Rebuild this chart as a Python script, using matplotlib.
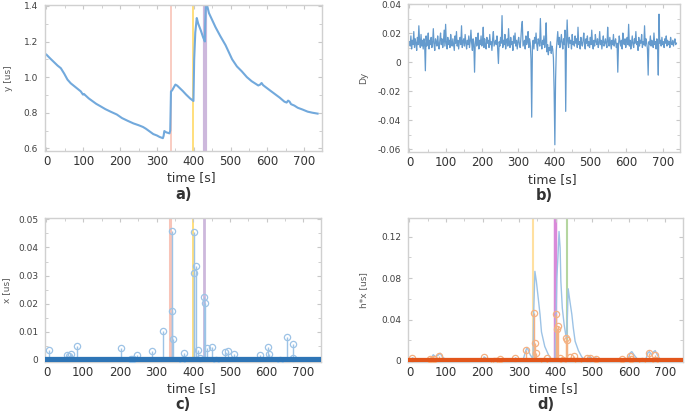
import numpy as np
import matplotlib
matplotlib.use("Agg")
import matplotlib.pyplot as plt
from matplotlib.ticker import MultipleLocator

plt.rcParams['font.family'] = ['DejaVu Sans']

# ---- data ----
# a) y [us] over time
y_time = [0, 10, 20, 30, 39, 48, 57, 66, 75, 84, 93, 99, 102, 106, 115, 125, 135, 146,
          160, 175, 191, 205, 220, 236, 250, 262, 270, 280, 290, 300, 307, 316, 318, 320,
          325, 334, 336, 338, 341, 345, 350, 355, 361, 370, 379, 390, 399, 401, 404, 408,
          412, 419, 425, 430, 431, 433, 437, 441, 450, 459, 472, 486, 504, 517, 530, 544,
          557, 566, 575, 580, 584, 588, 593, 607, 620, 633, 646, 652, 656, 660, 664, 673,
          682, 695, 709, 722, 736]
y_vals = [1.126, 1.105, 1.085, 1.065, 1.05, 1.02, 0.986, 0.965, 0.95, 0.935, 0.92, 0.902,
          0.905, 0.897, 0.88, 0.865, 0.85, 0.837, 0.82, 0.805, 0.79, 0.77, 0.755, 0.74,
          0.73, 0.72, 0.71, 0.695, 0.68, 0.672, 0.664, 0.657, 0.67, 0.697, 0.69, 0.684,
          0.70, 0.92, 0.925, 0.94, 0.958, 0.952, 0.94, 0.922, 0.902, 0.88, 0.866, 1.10,
          1.25, 1.332, 1.30, 1.262, 1.225, 1.20, 1.30, 1.42, 1.395, 1.36, 1.32, 1.28, 1.23,
          1.18, 1.10, 1.06, 1.033, 1.00, 0.977, 0.965, 0.953, 0.958, 0.967, 0.955, 0.947,
          0.925, 0.905, 0.885, 0.862, 0.857, 0.868, 0.862, 0.848, 0.84, 0.828, 0.818,
          0.806, 0.80, 0.795]

# b) Dy, one value every 2 s, in thousandths
dy_step = 2
dy_milli = [14, 11, 18, 9, 15, 12, 21, 10, 16, 13,
            8, 17, 12, 25, 14, 10, 19, 11, 15, 9,
            16, 13, -6, 18, 11, 14, 20, 9, 15, 12,
            17, 10, 13, 23, 12, 8, 16, 14, 11, 18,
            13, 9, 15, 20, 12, 16, 10, 14, 22, 11,
            26, 13, 9, 17, 12, 15, 10, 19, 14, 11,
            16, 12, 8, 18, 13, 21, 11, 15, 9, 14,
            17, 12, 25, 10, 14, 16, 11, 19, 13, 9,
            15, 12, 18, 10, 14, 22, 13, 8, 16, 12,
            -7, 14, 17, 11, 13, 20, 9, 15, 12, 18,
            11, 14, 24, 10, 16, 12, 9, 17, 13, 15,
            10, 19, 12, 14, 8, 16, 21, 11, 13, 15,
            12, 18, 9, -1, 14, 11, 17, 13, 32, 10,
            15, 12, 19, 9, 14, 16, 11, 23, 13, 10,
            17, 12, 14, 8, 18, 13, 20, 11, 15, 9,
            14, 17, 12, 10, 16, 24, 28, 11, 13, 15,
            9, 18, 12, 14, 21, 10, 16, 13, 2, -38,
            11, 15, 9, 17, 13, 20, 12, 8, 16, 14,
            11, 30, 13, 9, 15, 12, 18, 10, 14, 27,
            7, 12, 5, 10, 8, 14, 6, 11, 9, 3,
            -20, -57, -12, 8, 15, 21, 12, 17, 10, 14,
            19, 13, 9, 16, 12, 22, -34, 11, 29, 14,
            10, 17, 13, 15, 9, 19, 12, 14, 11, 18,
            13, 16, 10, 24, 12, 14, 9, 17, 13, 11,
            15, 20, 12, 9, 16, 13, 18, 11, 14, 10,
            17, 12, 22, 13, 9, 15, 11, 19, 14, 12,
            16, 10, 13, 21, 12, 15, 9, 14, 18, 11,
            13, 16, 12, 10, 24, 14, 11, 17, 13, 9,
            15, 12, 19, 11, 14, 16, 10, 13, -7, 12,
            18, 14, 11, 15, 9, 20, 13, 12, 16, 10,
            14, 17, 12, 26, 11, 15, 9, 13, 18, 12,
            10, 16, 13, 21, 12, 14, 8, 17, 11, 15,
            13, 19, 10, 14, 12, 25, 11, 16, 13, 9,
            -9, 14, 12, 18, 11, 15, 13, 10, 20, 12,
            14, 9, 16, 12, -9, 33, 13, 15, 11, 17,
            12, 14, 10, 16, 13, 18, 11, 15, 12, 14,
            10, 17, 13, 12, 15, 11, 14, 16, 12, 13]

# c) / d) sparse input x [us]
x_time = [8, 55, 62, 66, 82, 204, 231, 236, 247, 288, 318, 341, 342, 346, 368, 375, 401,
          403, 407, 412, 419, 429, 432, 438, 450, 462, 486, 495, 511, 581, 604, 606, 636,
          654, 671, 671]
x_vals = [0.0033, 0.0018, 0.0012, 0.002, 0.005, 0.0041, 0.0002, 0.0002, 0.0018, 0.003,
          0.0102, 0.046, 0.0173, 0.0073, 0.0, 0.0024, 0.0455, 0.031, 0.0335, 0.0033,
          0.0006, 0.0224, 0.0202, 0.0041, 0.0047, 0.0, 0.0027, 0.0032, 0.002, 0.0018,
          0.0044, 0.002, 0.0, 0.0081, 0.0055, 0.0006]

# d) h*x response
hx_time = [0, 5, 8, 14, 22, 50, 55, 60, 65, 72, 80, 84, 90, 100, 110, 195, 200, 204, 212,
           222, 232, 240, 247, 255, 265, 285, 290, 298, 310, 318, 322, 330, 336, 338, 340,
           343, 347, 352, 357, 361, 370, 380, 389, 398, 401, 403, 406, 409, 412, 414, 418,
           423, 428, 430, 432, 434, 439, 444, 448, 453, 462, 471, 480, 486, 490, 495, 500,
           510, 515, 525, 575, 582, 590, 600, 604, 608, 616, 625, 645, 652, 656, 662, 668,
           672, 676, 685, 700, 745]
hx_vals = [0.0, 0.0, 0.003, 0.002, 0.0, 0.0, 0.002, 0.003, 0.006, 0.004, 0.006, 0.0075,
           0.004, 0.001, 0.0, 0.0, 0.0, 0.004, 0.002, 0.0005, 0.001, 0.0005, 0.002, 0.001,
           0.0, 0.0, 0.003, 0.001, 0.0, 0.010, 0.013, 0.006, 0.003, 0.004, 0.05, 0.0865,
           0.077, 0.061, 0.045, 0.028, 0.014, 0.006, 0.001, 0.0, 0.045, 0.08, 0.10, 0.125,
           0.109, 0.077, 0.051, 0.035, 0.024, 0.022, 0.045, 0.0697, 0.057, 0.045, 0.032,
           0.019, 0.01, 0.004, 0.001, 0.002, 0.003, 0.004, 0.002, 0.003, 0.001, 0.0, 0.0,
           0.002, 0.001, 0.004, 0.008, 0.009, 0.005, 0.001, 0.0, 0.008, 0.009, 0.006, 0.009,
           0.01, 0.007, 0.002, 0.0, 0.0]

# event markers (s)
events = [337, 399, 430]

xticks = [0, 100, 200, 300, 400, 500, 600, 700]

# ---- figure ----
W, H = 685, 418
fig = plt.figure(figsize=(W / 100, H / 100), dpi=100)


def px_axes(l, t, r, b):
    return fig.add_axes([l / W, 1 - b / H, (r - l) / W, (b - t) / H])


TXT = '#404040'
SPINE = '#d0d0d0'


def style(ax, ylabel, label_x, letter):
    ax.set_xlim(-4, 748)
    ax.set_xticks(xticks)
    ax.xaxis.set_minor_locator(MultipleLocator(50))
    for s in ax.spines.values():
        s.set_color(SPINE)
        s.set_linewidth(1.0)
    ax.tick_params(which='both', direction='in', color='#c8c8c8', top=True, right=True)
    ax.tick_params(which='major', length=3, width=0.8)
    ax.tick_params(which='minor', length=2, width=0.6)
    ax.tick_params(axis='x', labelsize=8.5, labelcolor='#333333', pad=3)
    ax.tick_params(axis='y', labelsize=6.5, labelcolor=TXT, pad=5)
    ax.set_ylabel(ylabel, fontsize=6.5, color='#595959')
    ax.yaxis.set_label_coords(label_x, 0.5)
    ax.set_xlabel('time [s]', fontsize=9, color='#333333', va='center')
    ax.xaxis.set_label_coords(0.53, -0.185)
    ax.text(0.50, -0.295, letter, transform=ax.transAxes, ha='center', va='center',
            fontsize=10.5, fontweight='bold', color='#333333')


# a)
ax = px_axes(45, 5, 322, 151)
ax.axvline(events[0], color='#f8c4b8', lw=1.2, zorder=1)
ax.axvline(events[1], color='#ffd966', lw=1.2, zorder=1)
ax.axvline(events[2], color='#cdb8dc', lw=3.0, zorder=1)
ax.plot(y_time, y_vals, color='#72a9dc', lw=1.5, zorder=2)
ax.set_ylim(0.585, 1.405)
ax.set_yticks([0.6, 0.8, 1.0, 1.2, 1.4])
ax.set_yticklabels(['0.6', '0.8', '1.0', '1.2', '1.4'])
ax.yaxis.set_minor_locator(MultipleLocator(0.1))
style(ax, 'y [us]', -0.117, 'a)')

# b)
dy_time = np.arange(len(dy_milli)) * dy_step
dy_vals = np.array(dy_milli) / 1000.0
ax = px_axes(408, 4, 680, 152)
ax.plot(dy_time, dy_vals, color='#2270b8', lw=0.9, alpha=0.7)
ax.set_ylim(-0.062, 0.04)
ax.set_yticks([0.04, 0.02, 0, -0.02, -0.04, -0.06])
ax.set_yticklabels(['0.04', '0.02', '0', '-0.02', '-0.04', '-0.06'])
ax.yaxis.set_minor_locator(MultipleLocator(0.01))
style(ax, 'Dy', -0.145, 'b)')

# c)
ax = px_axes(45, 218, 321, 362)
ax.axvline(events[0], color='#f8c4b8', lw=2.2, zorder=1)
ax.axvline(events[1], color='#ffd966', lw=1.2, zorder=1)
ax.axvline(events[2], color='#cdb8dc', lw=2.0, zorder=1)
ax.vlines(x_time, 0, x_vals, color='#9dc3e6', lw=1.0, zorder=2)
ax.plot(x_time, x_vals, 'o', ms=4.5, mfc='none', mec='#9dc3e6', mew=0.9, zorder=3)
ax.axhline(0, color='#2e75b6', lw=4.5, zorder=4)
ax.set_ylim(-0.0008, 0.0505)
ax.set_yticks([0, 0.01, 0.02, 0.03, 0.04, 0.05])
ax.set_yticklabels(['0', '0.01', '0.02', '0.03', '0.04', '0.05'])
ax.yaxis.set_minor_locator(MultipleLocator(0.005))
style(ax, 'x [us]', -0.121, 'c)')

# d)
ax = px_axes(408, 218, 683, 362)
ax.axvline(events[0], color='#ffe0a0', lw=1.5, zorder=1)
ax.axvline(events[1], color='#d98ad9', lw=2.5, zorder=1)
ax.axvline(events[2], color='#b5d6a0', lw=1.5, zorder=1)
ax.plot(hx_time, hx_vals, color='#9dc3e6', lw=1.0, zorder=2)
ax.vlines(x_time, 0, x_vals, color='#f4b183', lw=1.0, zorder=3)
ax.plot(x_time, x_vals, 'o', ms=4.5, mfc='none', mec='#f4b183', mew=0.9, zorder=3)
ax.axhline(0, color='#e2561b', lw=4.5, zorder=4)
ax.set_ylim(-0.001, 0.138)
ax.set_yticks([0, 0.04, 0.08, 0.12])
ax.set_yticklabels(['0', '0.04', '0.08', '0.12'])
ax.yaxis.set_minor_locator(MultipleLocator(0.02))
style(ax, 'h*x [us]', -0.145, 'd)')

fig.savefig('out.png', dpi=100)
